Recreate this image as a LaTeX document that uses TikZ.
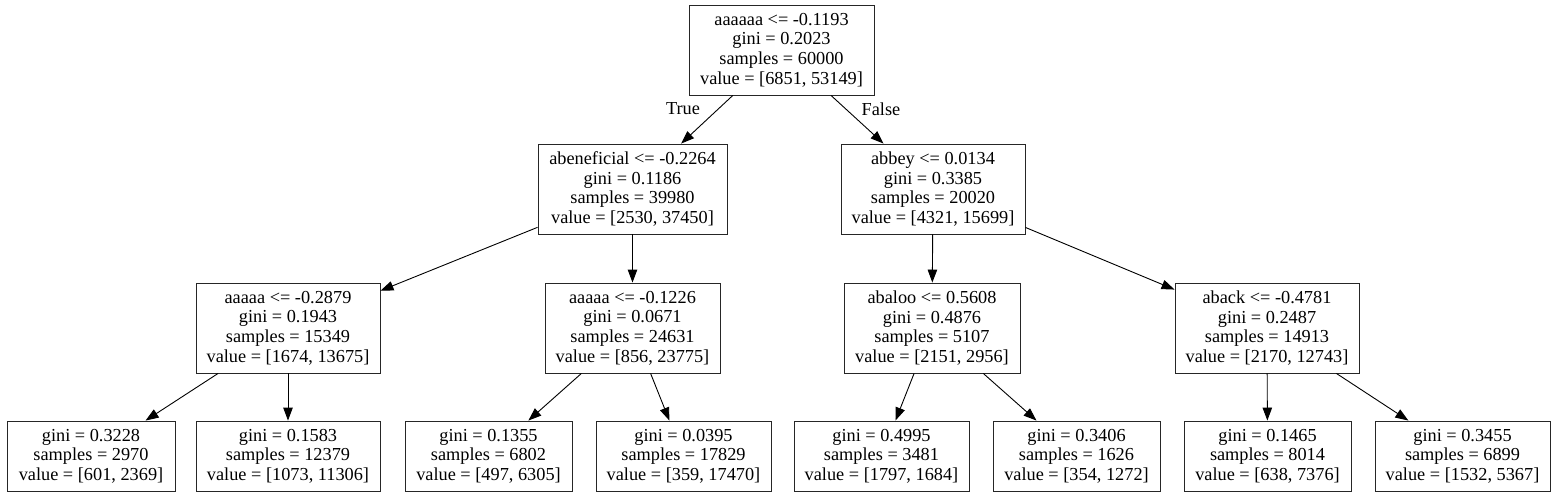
\documentclass[tikz,border=0pt]{standalone}
\usepackage{fontspec}
\setmainfont{Liberation Serif}
\usetikzlibrary{arrows.meta}
\begin{document}
\begin{tikzpicture}[x=1pt,y=-1pt,
  box/.style={draw=black!85, line width=0.9pt, inner sep=0pt, align=center,
    minimum height=#1, font=\fontsize{18.3}{19.6}\selectfont},
  box/.default=90pt,
  edge/.style={line width=0.9pt, -{Triangle[length=13pt,width=9.5pt]}},
  elabel/.style={inner sep=0pt, font=\fontsize{18.3}{19.6}\selectfont}]
\useasboundingbox (0,0) rectangle (1555,497);
\fill[white] (0,0) rectangle (1555,497);
% level 0
\node[box, minimum width=185pt] (root) at (781.5,50) {aaaaaa <= -0.1193\\gini = 0.2023\\samples = 60000\\value = [6851, 53149]};
% level 1
\node[box, minimum width=189pt] (la) at (632.5,189) {abeneficial <= -0.2264\\gini = 0.1186\\samples = 39980\\value = [2530, 37450]};
\node[box, minimum width=184pt] (lb) at (933,189) {abbey <= 0.0134\\gini = 0.3385\\samples = 20020\\value = [4321, 15699]};
% level 2
\node[box, minimum width=184pt] (ma) at (288,328) {aaaaa <= -0.2879\\gini = 0.1943\\samples = 15349\\value = [1674, 13675]};
\node[box, minimum width=175pt] (mb) at (632.5,328) {aaaaa <= -0.1226\\gini = 0.0671\\samples = 24631\\value = [856, 23775]};
\node[box, minimum width=176pt] (mc) at (932,328) {abaloo <= 0.5608\\gini = 0.4876\\samples = 5107\\value = [2151, 2956]};
\node[box, minimum width=184pt] (md) at (1267,328) {aback <= -0.4781\\gini = 0.2487\\samples = 14913\\value = [2170, 12743]};
% level 3
\node[box=70pt, minimum width=168pt] (a1) at (91,456) {gini = 0.3228\\samples = 2970\\value = [601, 2369]};
\node[box=70pt, minimum width=184pt] (a2) at (288,456) {gini = 0.1583\\samples = 12379\\value = [1073, 11306]};
\node[box=70pt, minimum width=167pt] (b1) at (488.5,456) {gini = 0.1355\\samples = 6802\\value = [497, 6305]};
\node[box=70pt, minimum width=175pt] (b2) at (683.5,456) {gini = 0.0395\\samples = 17829\\value = [359, 17470]};
\node[box=70pt, minimum width=175pt] (c1) at (881.5,456) {gini = 0.4995\\samples = 3481\\value = [1797, 1684]};
\node[box=70pt, minimum width=167pt] (c2) at (1076.5,456) {gini = 0.3406\\samples = 1626\\value = [354, 1272]};
\node[box=70pt, minimum width=167pt] (d1) at (1267.5,456) {gini = 0.1465\\samples = 8014\\value = [638, 7376]};
\node[box=70pt, minimum width=175pt] (d2) at (1462.5,456) {gini = 0.3455\\samples = 6899\\value = [1532, 5367]};
% edges
\draw[edge] (root) -- (la);
\draw[edge] (root) -- (lb);
\draw[edge] (la) -- (ma);
\draw[edge] (la) -- (mb);
\draw[edge] (lb) -- (mc);
\draw[edge] (lb) -- (md);
\draw[edge] (ma) -- (a1);
\draw[edge] (ma) -- (a2);
\draw[edge] (mb) -- (b1);
\draw[edge] (mb) -- (b2);
\draw[edge] (mc) -- (c1);
\draw[edge] (mc) -- (c2);
\draw[edge] (md) -- (d1);
\draw[edge] (md) -- (d2);
% edge labels
\node[elabel] (ltrue) at (683,109) {True};
\node[elabel] (lfalse) at (881,109) {False};
\end{tikzpicture}
\end{document}
